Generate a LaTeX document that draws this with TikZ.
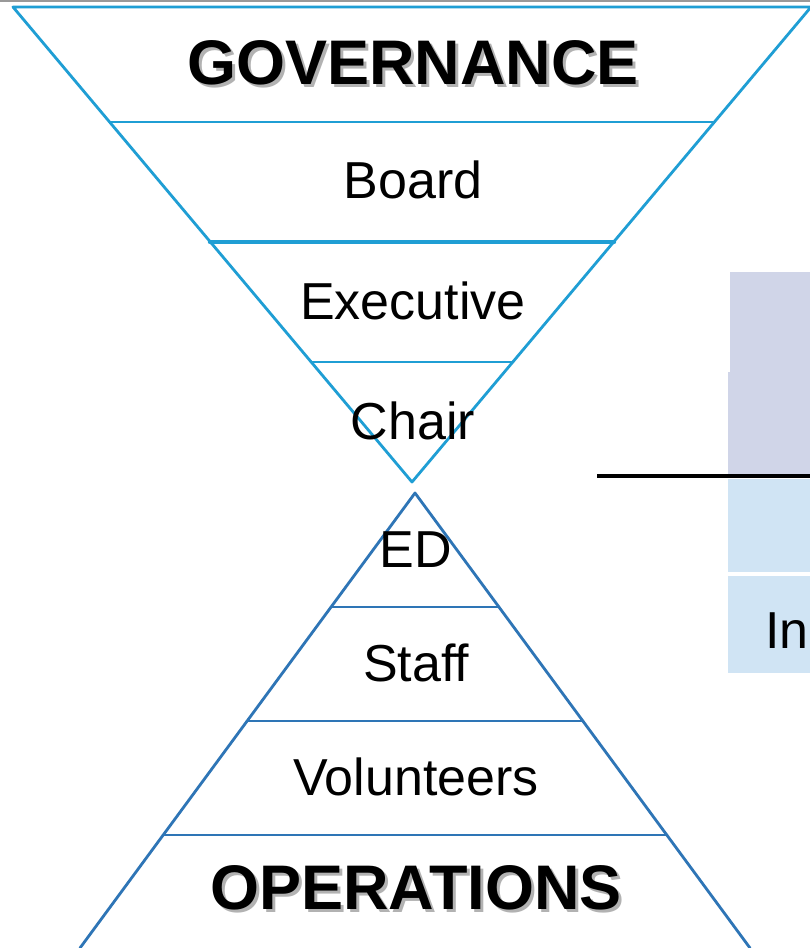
\documentclass[tikz,border=0pt]{standalone}
\usepackage{fontspec}
\setmainfont{Liberation Sans}
\definecolor{govblue}{RGB}{31,158,212}
\definecolor{opblue}{RGB}{46,117,182}
\definecolor{boxpurple}{RGB}{208,213,232}
\definecolor{boxblue}{RGB}{208,228,244}
\newcommand{\shadowtext}[1]{\rlap{\hspace{3pt}\raisebox{-3pt}{\textcolor{black!30}{#1}}}#1}
\tikzset{
  govline/.style={draw=govblue, line width=2.8pt, line cap=round, line join=round},
  opline/.style={draw=opblue, line width=2.8pt, line cap=round, line join=round},
  lbl/.style={inner sep=0pt, font=\fontsize{52}{60}\selectfont},
  bigl/.style={inner sep=0pt, font=\fontsize{63}{72}\selectfont\bfseries}
}
\begin{document}
\begin{tikzpicture}[x=1pt,y=-1pt]
\useasboundingbox (0,0) rectangle (810,948);
\begin{scope}
\clip (0,0) rectangle (810,948);
\fill[white] (0,0) rectangle (810,948);
\draw[black!40, line width=1.5pt] (0,1) -- (810,1);
% right side partial boxes
\fill[boxpurple] (730,272) rectangle (812,372);
\fill[boxpurple] (728,372) rectangle (812,474);
\fill[boxblue] (728,479) rectangle (812,572);
\fill[boxblue] (728,576) rectangle (812,673);
\draw[black, line width=4pt] (597,476) -- (812,476);
\node[lbl, anchor=base west] (inlbl) at (765,648) {In};
% governance inverted triangle
\path[govline] (13,7) -- (412,482) -- (811,7) -- cycle;
\path[govline] (110,122) -- (714,122);
\path[govline, line width=4.4pt] (210,242) -- (614,242);
\path[govline] (311,362) -- (513,362);
% operations triangle
\path[opline] (80,948) -- (415,493) -- (750,948);
\path[opline] (331,607) -- (499,607);
\path[opline] (247,721) -- (583,721);
\path[opline] (163,835) -- (667,835);
% labels
\node[bigl] (gov) at (413,64) {\shadowtext{GOVERNANCE}};
\node[lbl] (board) at (413,180) {Board};
\node[lbl] (exec) at (413,301) {Executive};
\node[lbl] (chair) at (413,421) {Chair};
\node[lbl] (ed) at (416,550) {ED};
\node[lbl] (staff) at (416,663) {Staff};
\node[lbl] (vol) at (416,777) {Volunteers};
\node[bigl] (ops) at (416,889) {\shadowtext{OPERATIONS}};
\end{scope}
\end{tikzpicture}
\end{document}
